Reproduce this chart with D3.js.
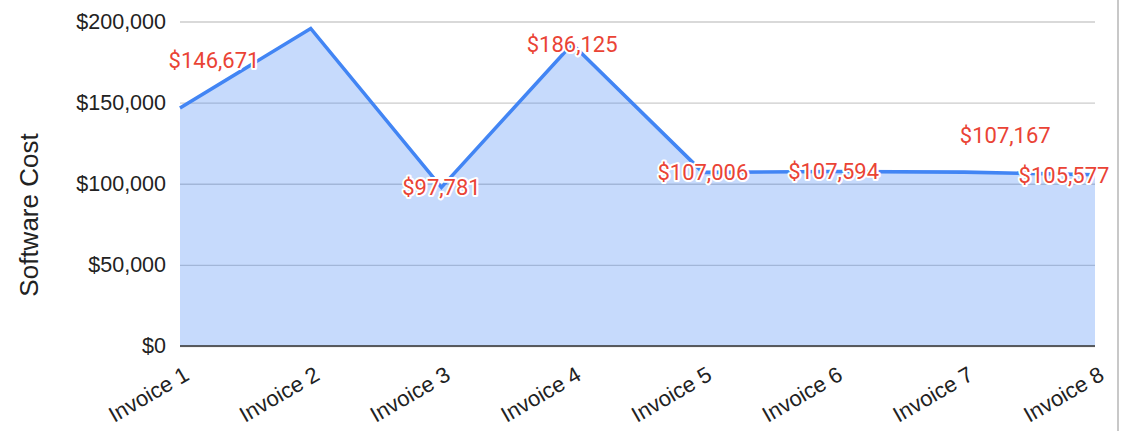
<!DOCTYPE html>
<html>
<head>
<meta charset="utf-8">
<script src="https://cdn.jsdelivr.net/npm/d3@7"></script>
<style>
  body { margin: 0; background: #fff; }
  svg { display: block; }
</style>
</head>
<body>
<div id="viz-container"></div>
<script>
// data
let invoices = ["Invoice 1","Invoice 2","Invoice 3","Invoice 4","Invoice 5","Invoice 6","Invoice 7","Invoice 8"];
let cost = [146671, 195700, 97781, 186125, 107006, 107594, 107167, 105577];
let yTicks = [0, 50000, 100000, 150000, 200000];
let yTitle = "Software Cost";

let W = 1135, H = 431;
let plotL = 180, plotR = 1095, plotT = 21.5, plotB = 346;

let viz = d3.select("#viz-container")
  .append("svg")
    .attr("width", W)
    .attr("height", H);

let x = d3.scalePoint().domain(invoices).range([plotL, plotR]);
let y = d3.scaleLinear().domain([0, 200000]).range([plotB, plotT]);
let money = d3.format("$,");

// gridlines + y tick labels
let yAxis = viz.append("g")
  .attr("transform", "translate(" + plotL + ",0)")
  .call(d3.axisLeft(y).tickValues(yTicks).tickFormat(money)
    .tickSize(-(plotR - plotL)).tickPadding(14));
yAxis.select(".domain").remove();
yAxis.selectAll("line").attr("stroke", "#cccccc").attr("stroke-width", 1.4);
yAxis.selectAll("text")
  .attr("font-family", "Liberation Sans, Arial, sans-serif")
  .attr("font-size", 21.5)
  .attr("fill", "#222");

// area + line
let area = d3.area()
  .x((d, i) => x(invoices[i]))
  .y0(y(0))
  .y1(d => y(d));
let line = d3.line()
  .x((d, i) => x(invoices[i]))
  .y(d => y(d));

viz.append("path")
  .datum(cost)
  .attr("d", area)
  .attr("fill", "#4285f4")
  .attr("fill-opacity", 0.3);

// baseline at zero
viz.append("line")
  .attr("x1", plotL).attr("x2", plotR)
  .attr("y1", y(0)).attr("y2", y(0))
  .attr("stroke", "#333")
  .attr("stroke-width", 1.6);

viz.append("path")
  .datum(cost)
  .attr("d", line)
  .attr("fill", "none")
  .attr("stroke", "#4285f4")
  .attr("stroke-width", 3.6)
  .attr("stroke-linejoin", "miter");

// x axis labels, slanted
let xAxis = viz.append("g")
  .attr("transform", "translate(0," + plotB + ")")
  .call(d3.axisBottom(x).tickSize(0));
xAxis.select(".domain").remove();
xAxis.selectAll("text")
  .attr("font-family", "Liberation Sans, Arial, sans-serif")
  .attr("font-size", 22)
  .attr("fill", "#222")
  .attr("text-anchor", "end")
  .attr("dy", 0)
  .attr("y", 0)
  .attr("transform", "translate(10,33) rotate(-30)");

// y title
viz.append("text")
  .text(yTitle)
  .attr("transform", "translate(38,215) rotate(-90)")
  .attr("text-anchor", "middle")
  .attr("font-family", "Liberation Sans, Arial, sans-serif")
  .attr("font-size", 26)
  .attr("fill", "#222");

// data labels: centered on the point, some moved to avoid collisions
let hidden = [1];
let nudge = { 0: [34, -48], 6: [41, -37], 7: [-31, 0] };
let pts = cost.map((v, i) => ({ v: v, i: i })).filter(p => hidden.indexOf(p.i) < 0);
viz.selectAll(".lbl").data(pts).enter()
  .append("text")
    .attr("class", "lbl")
    .text(p => money(p.v))
    .attr("x", p => x(invoices[p.i]) + (nudge[p.i] ? nudge[p.i][0] : 0))
    .attr("y", p => y(p.v) + 8 + (nudge[p.i] ? nudge[p.i][1] : 0))
    .attr("text-anchor", "middle")
    .attr("font-family", "Roboto, sans-serif")
    .attr("font-size", 22)
    .attr("fill", "#ea4335")
    .attr("stroke", "#fff")
    .attr("stroke-width", 4)
    .attr("stroke-linejoin", "round")
    .attr("paint-order", "stroke");

// panel edge on the right
viz.append("line")
  .attr("x1", 1118).attr("x2", 1118)
  .attr("y1", 0).attr("y2", H)
  .attr("stroke", "#c8c8c8")
  .attr("stroke-width", 2);
</script>
</body>
</html>
